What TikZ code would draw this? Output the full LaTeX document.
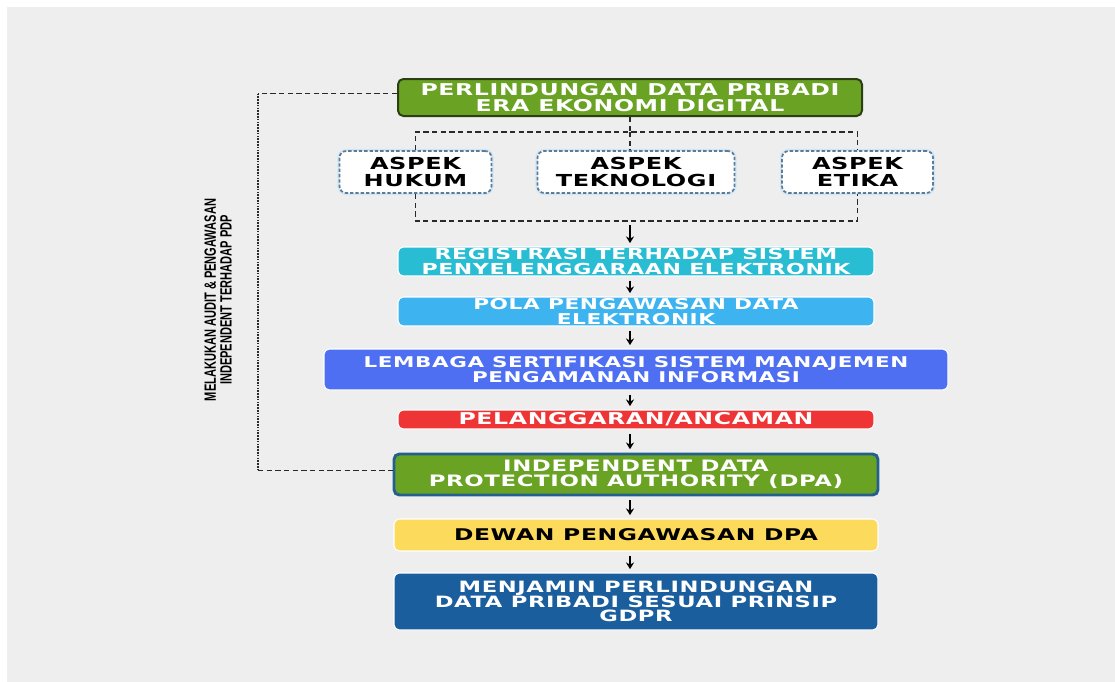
\documentclass[tikz,border=0pt]{standalone}
\usepackage{fontspec}
\usetikzlibrary{arrows.meta}
\newfontfamily\bxf[FakeStretch=1.45,LetterSpace=4]{DejaVu Sans}
\newfontfamily\cnf[FakeStretch=0.68]{Liberation Sans}
\newcommand\myfs[2]{\fontsize{#1}{#2}\selectfont}
\definecolor{bgc}{HTML}{EEEEEE}
\definecolor{gr}{HTML}{6AA324}
\definecolor{grb}{HTML}{2B3F12}
\definecolor{dpab}{HTML}{23608F}
\definecolor{cy}{HTML}{28BDD3}
\definecolor{lb}{HTML}{3DB4EF}
\definecolor{rb}{HTML}{4F6FF2}
\definecolor{rd}{HTML}{EE3434}
\definecolor{yl}{HTML}{FCDB5C}
\definecolor{db}{HTML}{1B5E9E}
\definecolor{asb}{HTML}{5B7C99}
\definecolor{asg}{HTML}{D3E6F4}
\definecolor{ln}{HTML}{2A2A2A}
\begin{document}
\begin{tikzpicture}[x=0.75pt,y=-0.75pt,
  box/.style={rounded corners=4pt, align=center, inner sep=0pt, text=white, draw=white, line width=0.8pt},
  aspbox/.style={rounded corners=5pt, align=center, inner sep=0pt, text=black, fill=white, draw=asb,
     preaction={draw=asg, line width=3.2pt, solid},
     line width=1.3pt, dash pattern=on 2.5pt off 1.5pt, minimum height=31.5pt, font={\bxf\bfseries\myfs{12.4}{13.2}}},
  dsh/.style={draw=ln, line width=1.3pt, dash pattern=on 4pt off 2.5pt},
  dotln/.style={draw=ln, line width=1.4pt, dash pattern=on 1.2pt off 0.9pt},
  arr/.style={draw=black, line width=1.2pt, -{Stealth[length=5pt,width=6pt]}, shorten <=3pt, shorten >=2.5pt}
]
\useasboundingbox (0,0) rectangle (1115,682);
\fill[white] (0,0) rectangle (1115,682);
\fill[bgc] (7,7) rectangle (1115,682);

\node[box, fill=gr, draw=grb, line width=1.5pt, minimum width=348pt, minimum height=27.75pt,
  font={\bxf\bfseries\myfs{12.2}{11.8}}] (top) at (630,97.5) {PERLINDUNGAN DATA PRIBADI\\ERA EKONOMI DIGITAL};

\node[aspbox, minimum width=114pt] (hukum) at (415.5,172) {ASPEK\\HUKUM};
\node[aspbox, minimum width=147.75pt] (tekno) at (636,172) {ASPEK\\TEKNOLOGI};
\node[aspbox, minimum width=113.25pt] (etika) at (857.5,172) {ASPEK\\ETIKA};

\node[box, fill=cy, minimum width=357pt, minimum height=21.75pt,
  font={\bxf\bfseries\myfs{11.4}{11}}] (reg) at (636,261.5) {REGISTRASI TERHADAP SISTEM\\PENYELENGGARAAN ELEKTRONIK};
\node[box, fill=lb, minimum width=357pt, minimum height=21.75pt,
  font={\bxf\bfseries\myfs{11.2}{11}}] (pola) at (636,311.5) {POLA PENGAWASAN DATA\\ELEKTRONIK};
\node[box, fill=rb, minimum width=468pt, minimum height=30.75pt,
  font={\bxf\bfseries\myfs{11.1}{11}}] (lemb) at (636,369.5) {LEMBAGA SERTIFIKASI SISTEM MANAJEMEN\\PENGAMANAN INFORMASI};
\node[box, fill=rd, minimum width=357pt, minimum height=14.25pt,
  font={\bxf\bfseries\myfs{12.2}{10}}] (pel) at (636,419.5) {PELANGGARAN/ANCAMAN};
\node[box, fill=gr, draw=dpab, line width=2.2pt, minimum width=363pt, minimum height=30.75pt,
  font={\bxf\bfseries\myfs{11.8}{11.4}}] (indep) at (636,474.5) {INDEPENDENT DATA\\PROTECTION AUTHORITY (DPA)};
\node[box, fill=yl, text=black, minimum width=363pt, minimum height=24pt,
  font={\bxf\bfseries\myfs{12.1}{10}}] (dewan) at (636,535) {DEWAN PENGAWASAN DPA};
\node[box, fill=db, minimum width=363pt, minimum height=42.75pt,
  font={\bxf\bfseries\myfs{11.7}{11.1}}] (menj) at (636,601.5) {MENJAMIN PERLINDUNGAN\\DATA PRIBADI SESUAI PRINSIP\\GDPR};

\node[rotate=90, align=center, inner sep=0pt, font={\cnf\bfseries\myfs{12.2}{11.8}}] (lbl) at (218,300)
  {MELAKUKAN AUDIT \& PENGAWASAN\\INDEPENDENT TERHADAP PDP};

\coordinate (ax) at (630,0);
\coordinate (bus1) at (0,132);
\coordinate (bus2) at (0,221);
\coordinate (fb) at (258,0);

\draw[dsh] (top.south) -- (top.south |- bus1);
\draw[dsh] (hukum.north) -- (hukum.north |- bus1) -- (etika.north |- bus1) -- (etika.north);
\draw[dsh] (top.south |- bus1) -- (top.south |- tekno.north);
\draw[dsh] (hukum.south) -- (hukum.south |- bus2) -- (etika.south |- bus2) -- (etika.south);

\draw[arr] (ax |- bus2) -- (ax |- reg.north);
\draw[arr] (ax |- reg.south) -- (ax |- pola.north);
\draw[arr] (ax |- pola.south) -- (ax |- lemb.north);
\draw[arr] (ax |- lemb.south) -- (ax |- pel.north);
\draw[arr] (ax |- pel.south) -- (ax |- indep.north);
\draw[arr] (ax |- indep.south) -- (ax |- dewan.north);
\draw[arr] (ax |- dewan.south) -- (ax |- menj.north);

\draw[dsh] ([yshift=3pt]top.west) -- ([yshift=3pt]top.west -| fb);
\draw[dotln] ([yshift=3pt]top.west -| fb) -- ([yshift=3pt]indep.west -| fb);
\draw[dsh] ([yshift=3pt]indep.west -| fb) -- ([yshift=3pt]indep.west);
\end{tikzpicture}
\end{document}
